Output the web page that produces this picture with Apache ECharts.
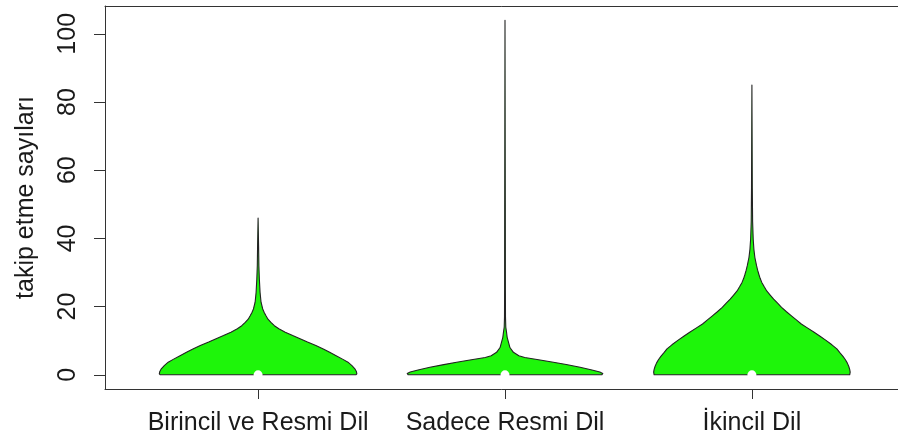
<!DOCTYPE html>
<html>
<head>
<meta charset="utf-8">
<script src="https://cdn.jsdelivr.net/npm/echarts@6/dist/echarts.min.js"></script>
<style>
  html, body { margin: 0; padding: 0; background: #ffffff; }
  #chart { width: 898px; height: 436px; }
</style>
</head>
<body>
<div id="chart"></div>
<script>
// ---- data ----
const categories = ['Birincil ve Resmi Dil', 'Sadece Resmi Dil', 'İkincil Dil'];
const yTicks = [0, 20, 40, 60, 80, 100];
const medians = [0, 0, 0];
// density profiles: [value, relative half-width (1 = widest)]
const profileBirincil = [
  [0, 0.99], [0.3, 1.0], [1, 0.995], [1.75, 0.98], [2.7, 0.95], [3.7, 0.91],
  [4.6, 0.855], [5.6, 0.79], [6.6, 0.725], [7.6, 0.66], [8.6, 0.585], [9.6, 0.5],
  [10.6, 0.425], [11.5, 0.35], [12.5, 0.275], [13.5, 0.21], [14.4, 0.165], [15.4, 0.13],
  [16.3, 0.1], [17.3, 0.08], [18.3, 0.062], [19.3, 0.047], [21.3, 0.03], [24.2, 0.02],
  [28, 0.013], [32, 0.008], [38, 0.005], [46, 0.0]
];
const profileSadece = [
  [0, 0.98], [0.4, 0.99], [0.8, 0.96], [1.5, 0.87], [2.2, 0.76], [3, 0.62],
  [3.7, 0.49], [4.4, 0.34], [5.1, 0.2], [5.6, 0.14], [6.6, 0.085], [8, 0.05],
  [9.6, 0.035], [11, 0.022], [12.6, 0.015], [14, 0.008], [17, 0.005], [25, 0.004],
  [50, 0.003], [104, 0.0]
];
const profileIkincil = [
  [0, 0.99], [0.8, 0.995], [1.6, 0.99], [2.5, 0.98], [3.5, 0.965], [4.5, 0.945],
  [5.5, 0.92], [6.5, 0.89], [7.6, 0.86], [8.8, 0.81], [10.1, 0.75], [11.3, 0.69],
  [12.5, 0.63], [13.7, 0.565], [14.9, 0.5], [16.1, 0.45], [17.3, 0.4], [18.5, 0.35],
  [19.8, 0.3], [21, 0.26], [22.2, 0.22], [23.4, 0.185], [24.6, 0.15], [25.8, 0.125],
  [27.1, 0.1], [28.3, 0.083], [29.5, 0.07], [30.7, 0.058], [32, 0.047], [34.4, 0.03],
  [36.8, 0.02], [39.8, 0.013], [45, 0.007], [55, 0.004], [85, 0.0]
];
const profiles = [profileBirincil, profileSadece, profileIkincil];

const maxHalfWidth = 0.4; // in x-axis units
const FONT = "'Liberation Sans', Arial, Helvetica, sans-serif";
const textColor = '#1a1a1a';
const lineColor = '#333333';

const chart = echarts.init(document.getElementById('chart'), null, { renderer: 'canvas' });

function renderViolin(params, api) {
  const idx = api.value(0);
  const prof = profiles[idx];
  const cx = idx + 1;
  const right = prof.map(p => api.coord([cx + maxHalfWidth * p[1], p[0]]));
  const left = prof.slice().reverse().map(p => api.coord([cx - maxHalfWidth * p[1], p[0]]));
  const pts = right.concat(left);
  const m = api.coord([cx, medians[idx]]);
  return {
    type: 'group',
    children: [
      {
        type: 'polygon',
        shape: { points: pts, smooth: 0 },
        style: { fill: '#1ef50a', stroke: '#222222', lineWidth: 1.1, lineJoin: 'round' }
      },
      {
        type: 'circle',
        shape: { cx: m[0], cy: m[1], r: 4.5 },
        style: { fill: '#ffffff', stroke: null }
      }
    ]
  };
}

const option = {
  animation: false,
  backgroundColor: '#ffffff',
  grid: {
    left: 105, top: 6, width: 800, height: 383,
    outerBoundsMode: 'none', containLabel: false, show: false
  },
  xAxis: [{
    type: 'value', min: 0.38, max: 3.62, position: 'bottom',
    splitLine: { show: false },
    axisLine: { show: true, onZero: false, lineStyle: { color: lineColor, width: 1 } },
    axisTick: { show: true, customValues: [1, 2, 3], length: 10, lineStyle: { color: lineColor } },
    axisLabel: {
      customValues: [1, 2, 3],
      formatter: v => categories[Math.round(v) - 1],
      fontSize: 25, fontFamily: FONT, color: textColor, margin: 22
    }
  }, {
    type: 'value', min: 0.38, max: 3.62, position: 'top',
    splitLine: { show: false },
    axisLine: { show: true, onZero: false, lineStyle: { color: lineColor, width: 1 } },
    axisTick: { show: false },
    axisLabel: { show: false }
  }],
  yAxis: {
    type: 'value', min: -4.16, max: 108.16, position: 'left',
    splitLine: { show: false },
    axisLine: { show: true, onZero: false, lineStyle: { color: lineColor, width: 1 } },
    axisTick: { show: true, customValues: yTicks, length: 11, lineStyle: { color: lineColor } },
    axisLabel: {
      customValues: yTicks, rotate: 90,
      fontSize: 25, fontFamily: FONT, color: textColor, margin: 24
    },
    name: 'takip etme sayıları', nameLocation: 'middle', nameRotate: 90, nameGap: 66,
    nameTextStyle: { fontSize: 25, fontFamily: FONT, color: textColor }
  },
  series: [{
    type: 'custom',
    xAxisIndex: 0,
    renderItem: renderViolin,
    data: [[0], [1], [2]],
    clip: false,
    silent: true
  }]
};
chart.setOption(option);
</script>
</body>
</html>
